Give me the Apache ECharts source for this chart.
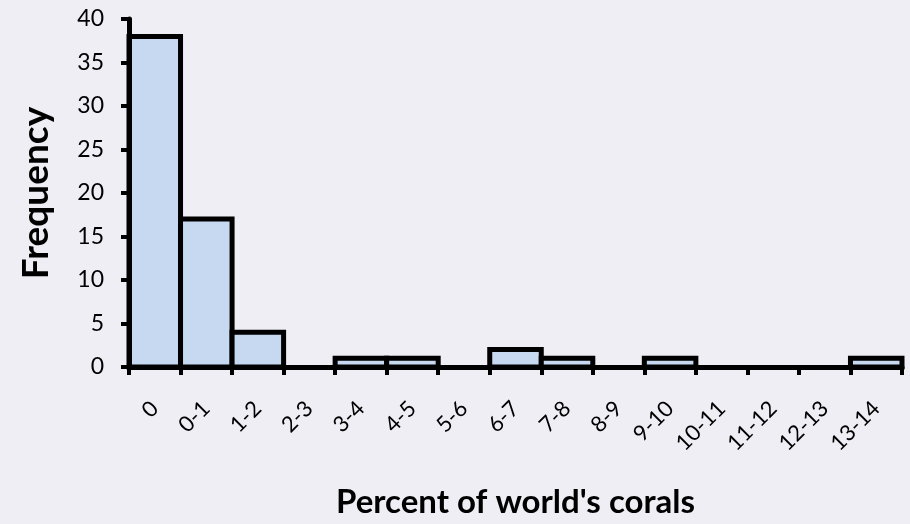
<!DOCTYPE html>
<html>
<head>
<meta charset="utf-8">
<script src="https://cdn.jsdelivr.net/npm/echarts@6/dist/echarts.min.js"></script>
<style>
html,body{margin:0;padding:0;background:#EFEEF4;overflow:hidden;}
#c{width:910px;height:524px;}
</style>
</head>
<body>
<div id="c"></div>
<script>
var categories = ['0','0-1','1-2','2-3','3-4','4-5','5-6','6-7','7-8','8-9','9-10','10-11','11-12','12-13','13-14'];
var frequency = [38,17,4,0,1,1,0,2,1,0,1,0,0,0,1];
var yTicks = {min:0, max:40, interval:5};

var chart = echarts.init(document.getElementById('c'), null, {renderer:'canvas'});
chart.setOption({
  backgroundColor:'#EFEEF4',
  animation:false,
  textStyle:{fontFamily:'Lato'},
  grid:{left:129, right:8, top:19, bottom:156, containLabel:false},
  xAxis:{
    type:'category',
    data:categories,
    boundaryGap:true,
    name:"Percent of world's corals",
    nameLocation:'middle',
    nameGap:119,
    nameTextStyle:{fontFamily:'Lato', fontWeight:'bold', fontSize:33, color:'#000'},
    axisLine:{show:true, onZero:false, lineStyle:{color:'#000', width:5}},
    axisTick:{show:true, length:8, lineStyle:{color:'#000', width:4}},
    axisLabel:{rotate:45, margin:38, fontSize:22, color:'#000', fontFamily:'Lato', interval:0},
    splitLine:{show:false},
    z:5
  },
  yAxis:{
    type:'value',
    min:yTicks.min, max:yTicks.max, interval:yTicks.interval,
    name:'Frequency',
    nameLocation:'middle',
    nameGap:74,
    nameRotate:90,
    nameTextStyle:{fontFamily:'Lato', fontWeight:'bold', fontSize:37, color:'#000'},
    axisLine:{show:true, lineStyle:{color:'#000', width:5}},
    axisTick:{show:true, length:8, lineStyle:{color:'#000', width:4}},
    axisLabel:{fontSize:23, color:'#000', fontFamily:'Lato', margin:25},
    splitLine:{show:false},
    z:5
  },
  series:[{
    type:'custom',
    data:frequency.map(function(v,i){return [i,v];}),
    encode:{x:0, y:1},
    z:1,
    renderItem:function(params, api){
      var i = api.value(0), v = api.value(1);
      if (!v) return null;
      var p0 = api.coord([i, 0]);
      var p1 = api.coord([i, v]);
      var w = api.size([1, 0])[0];
      return {type:'rect', shape:{x:p0[0]-w/2, y:p1[1], width:w, height:p0[1]-p1[1]},
        style:{fill:'#C6D9F0', stroke:'#000', lineWidth:5}};
    }
  }]
});
</script>
</body>
</html>
